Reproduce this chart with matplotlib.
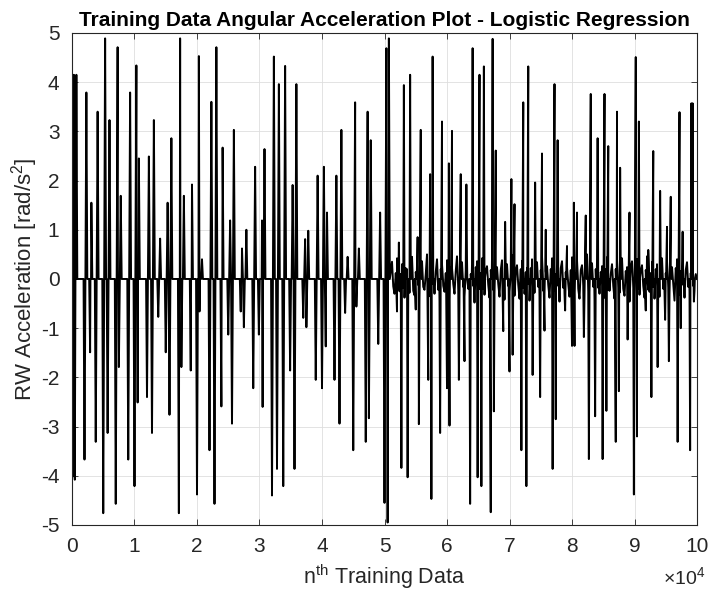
import numpy as np
import matplotlib
matplotlib.use("Agg")
import matplotlib.pyplot as plt

plt.rcParams['font.family'] = ['Liberation Sans', 'DejaVu Sans']

# Spike peaks (position in units of 1e4 samples, value in rad/s^2)
pos_x = [0.01, 0.03, 0.07,
         0.23, 0.31, 0.41, 0.53, 0.60, 0.73, 0.78, 0.93,
         1.03, 1.07, 1.23, 1.31, 1.41, 1.53, 1.59, 1.73, 1.79, 1.92,
         2.03, 2.08, 2.23, 2.31, 2.41, 2.53, 2.59, 2.72, 2.79, 2.93,
         3.04, 3.08, 3.23, 3.31, 3.41, 3.53, 3.59, 3.73, 3.78, 3.93,
         4.03, 4.08, 4.23, 4.31, 4.41, 4.53, 4.59, 4.73, 4.78, 4.93,
         5.03, 5.07, 5.23, 5.31, 5.41, 5.53, 5.58, 5.73, 5.77, 5.92,
         6.03, 6.08, 6.22, 6.31, 6.41, 6.52, 6.59, 6.73, 6.78, 6.93,
         7.03, 7.08, 7.22, 7.30, 7.41, 7.52, 7.58, 7.72, 7.77, 7.92,
         8.03, 8.08, 8.22, 8.30, 8.41, 8.52, 8.58, 8.72, 8.77, 8.92,
         9.02, 9.07, 9.22, 9.30, 9.41, 9.52, 9.58, 9.72, 9.77, 9.91, 9.93]
pos_y = [4.10, 4.15, 4.15,
         3.79, 1.55, 3.40, 4.89, 3.23, 4.71, 1.69, 3.79,
         4.34, 2.45, 2.49, 3.23, 0.82, 1.55, 2.86, 4.89, 1.69, 1.92,
         4.53, 0.40, 3.60, 4.71, 2.67, 1.19, 3.03, 0.62, 1.00, 2.28,
         1.19, 2.64, 4.52, 3.96, 4.33, 1.91, 3.96, 0.81, 0.98, 2.10,
         2.28, 1.35, 2.10, 3.03, 0.45, 3.59, 0.62, 3.40, 2.82, 1.35,
         4.69, 4.89, 0.74, 3.94, 4.15, 0.85, 3.03, 2.13, 4.52, 3.20,
         2.35, 3.01, 2.13, 1.92, 4.69, 4.15, 4.32, 4.88, 2.61, 1.16,
         2.03, 1.52, 3.59, 4.32, 1.96, 2.55, 1.00, 3.96, 2.82, 0.67,
         1.55, 1.35, 1.29, 3.76, 2.86, 3.76, 2.70, 3.40, 2.26, 1.35,
         4.51, 3.20, 0.59, 2.60, 1.79, 1.06, 1.67, 3.39, 0.96, 3.57, 3.57]

neg_x = [0.005, 0.02, 0.045,
         0.20, 0.29, 0.38, 0.50, 0.57, 0.70, 0.75, 0.90,
         1.00, 1.05, 1.20, 1.28, 1.38, 1.50, 1.56, 1.71, 1.75, 1.90,
         2.00, 2.04, 2.20, 2.28, 2.39, 2.50, 2.56, 2.70, 2.75, 2.90,
         2.99, 3.05, 3.20, 3.28, 3.38, 3.49, 3.56, 3.70, 3.75, 3.90,
         4.00, 4.06, 4.20, 4.28, 4.37, 4.50, 4.55, 4.70, 4.75, 4.90,
         5.00, 5.05, 5.20, 5.27, 5.37, 5.50, 5.55, 5.70, 5.75, 5.89,
         6.00, 6.04, 6.19, 6.28, 6.37, 6.49, 6.55, 6.70, 6.75, 6.90,
         7.00, 7.05, 7.19, 7.27, 7.37, 7.49, 7.56, 7.69, 7.74, 7.89,
         8.00, 8.04, 8.19, 8.27, 8.37, 8.49, 8.55, 8.70, 8.75, 8.89,
         8.99, 9.04, 9.18, 9.27, 9.37, 9.49, 9.55, 9.69, 9.74, 9.89, 9.95]
neg_y = [-3.95, -4.01, -4.08,
         -3.67, -1.49, -3.31, -4.76, -3.13, -4.57, -1.79, -3.67,
         -4.21, -2.51, -2.40, -3.13, -0.77, -1.49, -2.76, -4.76, -1.79, -1.86,
         -4.38, -0.66, -3.48, -4.57, -2.59, -1.13, -2.94, -0.66, -0.98, -2.22,
         -1.13, -2.60, -4.40, -3.86, -4.21, -1.86, -3.86, -0.79, -0.98, -2.05,
         -2.22, -1.37, -2.05, -2.94, -0.69, -3.48, -0.56, -3.31, -2.83, -1.32,
         -4.55, -4.95, -0.66, -3.84, -4.03, -0.62, -2.95, -2.05, -4.47, -3.13,
         -2.22, -2.98, -2.05, -1.67, -4.57, -4.03, -4.21, -4.74, -2.69, -1.06,
         -1.88, -1.54, -3.48, -4.21, -1.95, -2.40, -1.05, -3.86, -2.85, -0.64,
         -1.36, -1.36, -1.18, -3.66, -2.79, -3.66, -2.68, -3.31, -2.28, -1.23,
         -4.38, -3.20, -0.64, -2.40, -1.79, -0.83, -1.67, -3.31, -1.00, -3.48, -0.46]

# Vibration noise after ~5.1e4 samples: coarse values every 400 samples,
# plus smaller in-between values offset by 200 samples
noise_start = 5.12
noise_step = 0.04
noise_y = [0.35, -0.30, 0.42, -0.25, 0.30, -0.38, 0.20, -0.28, 0.45, -0.33,
           0.28, -0.40, 0.36, -0.22, 0.50, -0.35, 0.25, -0.30, 0.40, -0.45,
           0.30, -0.26, 0.38, -0.42, 0.22, -0.30, 0.46, -0.28, 0.34, -0.36,
           0.40, -0.24, 0.30, -0.48, 0.36, -0.20, 0.42, -0.32, 0.26, -0.38,
           0.44, -0.30, 0.24, -0.36, 0.38, -0.42, 0.30, -0.26, 0.48, -0.34,
           0.28, -0.40, 0.36, -0.30, 0.22, -0.44, 0.40, -0.28, 0.34, -0.36,
           0.46, -0.32, 0.26, -0.38, 0.42, -0.24, 0.30, -0.46, 0.36, -0.30,
           0.24, -0.36, 0.44, -0.28, 0.38, -0.40, 0.28, -0.34, 0.50, -0.26,
           0.32, -0.42, 0.36, -0.30, 0.26, -0.38, 0.44, -0.24, 0.30, -0.40,
           0.38, -0.28, 0.42, -0.34, 0.24, -0.46, 0.36, -0.30, 0.40, -0.32,
           0.28, -0.38, 0.46, -0.26, 0.34, -0.40, 0.30, -0.36, 0.42, -0.28,
           0.36, -0.30, 0.24, -0.44, 0.40, -0.32, 0.28, -0.38, 0.34, -0.26,
           0.30, -0.24]
noise_mid = [-0.15, 0.12, -0.20, 0.10, -0.18, 0.22, -0.12, 0.16, -0.24, 0.14,
             -0.12, 0.20, -0.16, 0.10, -0.26, 0.18, -0.10, 0.14, -0.22, 0.20,
             -0.14, 0.12, -0.18, 0.24, -0.10, 0.16, -0.22, 0.12, -0.16, 0.18,
             -0.20, 0.10, -0.14, 0.24, -0.18, 0.12, -0.20, 0.16, -0.12, 0.18,
             -0.22, 0.14, -0.10, 0.18, -0.20, 0.22, -0.14, 0.12, -0.24, 0.16,
             -0.12, 0.20, -0.18, 0.14, -0.10, 0.22, -0.20, 0.12, -0.16, 0.18,
             -0.24, 0.16, -0.12, 0.20, -0.22, 0.10, -0.14, 0.22, -0.18, 0.14,
             -0.10, 0.18, -0.22, 0.12, -0.20, 0.18, -0.14, 0.16, -0.26, 0.12,
             -0.16, 0.20, -0.18, 0.14, -0.12, 0.20, -0.22, 0.10, -0.14, 0.20,
             -0.18, 0.12, -0.20, 0.16, -0.10, 0.24, -0.18, 0.14, -0.20, 0.16,
             -0.14, 0.18, -0.22, 0.12, -0.16, 0.20, -0.14, 0.18, -0.20, 0.12,
             -0.18, 0.14, -0.10, 0.22, -0.20, 0.16, -0.12, 0.18, -0.16, 0.12,
             -0.14, 0.10]

x_ticks = [0, 1, 2, 3, 4, 5, 6, 7, 8, 9, 10]
y_ticks = [-5, -4, -3, -2, -1, 0, 1, 2, 3, 4, 5]

SCALE = 1e4
HALF_W = 0.015  # spike half width (units of 1e4 samples)

# assemble the signal: each spike is baseline -> peak -> baseline
pts = [(0.0, 0.0), (10.0, 0.0)]
for px, py in zip(pos_x + neg_x, pos_y + neg_y):
    pts += [(px - HALF_W, 0.0), (px, py), (px + HALF_W, 0.0)]
for k, v in enumerate(noise_y):
    pts.append((noise_start + k * noise_step, v))
for k, v in enumerate(noise_mid):
    pts.append((noise_start + (k + 0.5) * noise_step, v))
pts.sort(key=lambda p: p[0])
sig_x = np.array([p[0] for p in pts]) * SCALE
sig_y = np.array([p[1] for p in pts])

fig = plt.figure(figsize=(7.1, 5.93), dpi=100)
ax = fig.add_axes([0.1014, 0.1147, 0.8803, 0.8297])

ax.plot(sig_x, sig_y, color='black', linewidth=1.4)

txt = '#262626'
ax.set_xlim(0, 10 * SCALE)
ax.set_ylim(-5, 5)
ax.set_xticks([t * SCALE for t in x_ticks])
ax.set_xticklabels([str(t) for t in x_ticks])
ax.set_yticks(y_ticks)
ax.set_yticklabels([str(t) for t in y_ticks])
ax.grid(True, color='#dedede', linewidth=0.6)
ax.set_axisbelow(True)
ax.tick_params(direction='in', length=4, width=0.6, top=True, right=True,
               labelsize=15, colors=txt, pad=9)
for s in ax.spines.values():
    s.set_color(txt)
    s.set_linewidth(0.8)

ax.set_title('Training Data Angular Acceleration Plot - Logistic Regression',
             fontsize=15, fontweight='bold', pad=5)
ax.set_xlabel('n$^{\\mathregular{th}}$ Training Data', fontsize=15.5, color=txt, labelpad=4)
ax.set_ylabel('RW Acceleration [rad/s$^{\\mathregular{2}}$]', fontsize=16, color=txt, labelpad=1)
ax.text(1.013, -0.085, '\u00d710$^{\\mathregular{4}}$', transform=ax.transAxes,
        ha='right', va='top', fontsize=14, color=txt)

fig.savefig('out.png', dpi=100)
